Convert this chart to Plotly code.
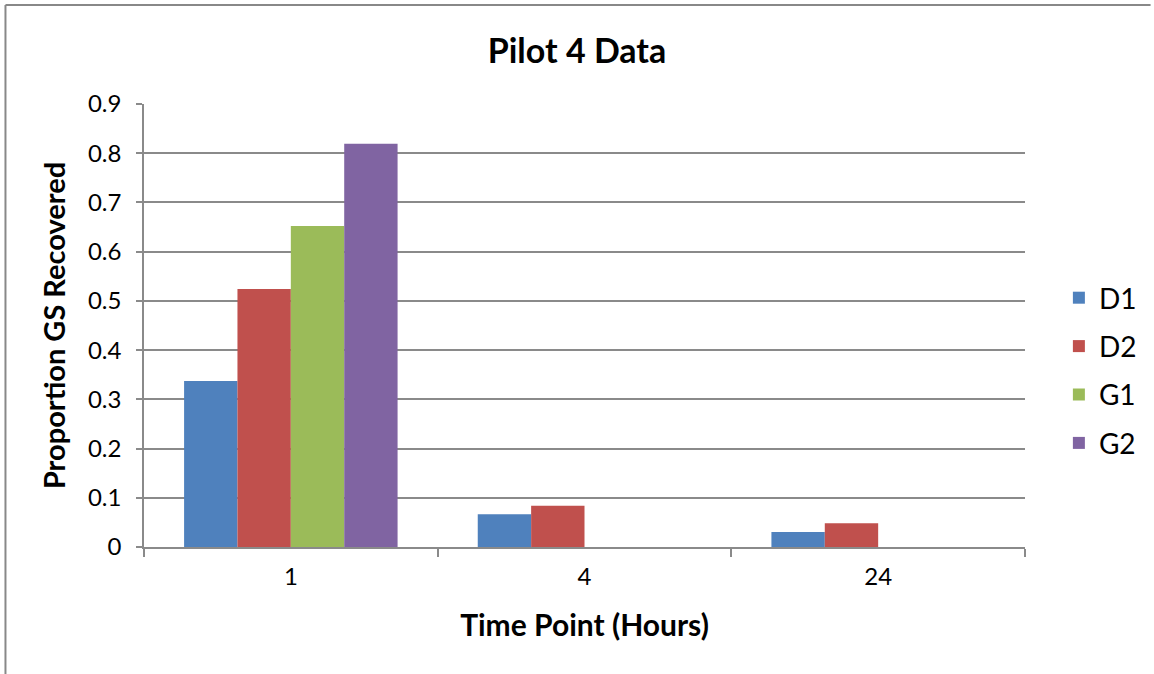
import plotly.graph_objects as go

# Time points (hours) and proportion of GS recovered per series
time_points = ["1", "4", "24"]
d1 = [0.337, 0.0665, 0.0305]
d2 = [0.524, 0.084, 0.048]
g1 = [0.652, None, None]
g2 = [0.819, None, None]

series_names = ["D1", "D2", "G1", "G2"]
series_values = [d1, d2, g1, g2]
series_colors = ["#4F81BD", "#C0504D", "#9BBB59", "#8064A2"]

FONT = "Lato"
GRID = "#8a8a8a"

fig = go.Figure()
for name, vals, col in zip(series_names, series_values, series_colors):
    fig.add_trace(go.Bar(
        x=time_points, y=vals, name=name, legendgroup=name,
        marker=dict(color=col, line=dict(width=0)),
    ))

W, H = 1154, 674
L, R, T, B = 144, 126, 104, 127
pw, ph = W - L - R, H - T - B


def px_x(p):
    return (p - L) / pw


def px_y(p):
    return (H - B - p) / ph


fig.update_layout(
    width=W, height=H,
    margin=dict(l=L, r=R, t=T, b=B, pad=0),
    paper_bgcolor="white", plot_bgcolor="white",
    barmode="group", bargap=0.273, bargroupgap=0,
    font=dict(family=FONT, color="black"),
    title=dict(text="<b>Pilot 4 Data</b>", x=0.5, xanchor="center",
               y=1 - 51 / H, yanchor="middle",
               font=dict(family=FONT, size=34, color="black")),
    xaxis=dict(
        type="category",
        showline=True, linecolor=GRID, linewidth=1.5,
        ticks="outside", tickson="boundaries", ticklen=8,
        tickcolor=GRID, tickwidth=1.5,
        ticklabelstandoff=7,
        tickfont=dict(size=24, family=FONT),
        title=dict(text="<b>Time Point (Hours)</b>", standoff=26,
                   font=dict(size=30, family=FONT)),
        showgrid=False,
    ),
    yaxis=dict(
        range=[0, 0.90001], dtick=0.1, tickformat=".1~f",
        showline=True, linecolor=GRID, linewidth=1.5,
        ticks="outside", ticklen=6, tickcolor=GRID, tickwidth=1.5,
        ticklabelstandoff=10,
        showgrid=True, gridcolor=GRID, gridwidth=1.5,
        zeroline=False,
        tickfont=dict(size=24, family=FONT),
        title=dict(text="<b>Proportion GS Recovered</b>", standoff=14,
                   font=dict(size=29, family=FONT)),
    ),
    legend=dict(
        x=px_x(1062), xanchor="left", y=px_y(273), yanchor="top",
        font=dict(size=28, family=FONT),
        tracegroupgap=9, itemwidth=30,
        bgcolor="rgba(0,0,0,0)",
    ),
    shapes=[
        # outer chart frame (top and left edges)
        dict(type="line", xref="paper", yref="paper",
             x0=px_x(5), x1=px_x(W), y0=px_y(5), y1=px_y(5),
             line=dict(color="#888888", width=2)),
        dict(type="line", xref="paper", yref="paper",
             x0=px_x(5), x1=px_x(5), y0=px_y(5), y1=px_y(H),
             line=dict(color="#888888", width=2)),
    ],
)

fig.write_html("out.html")
